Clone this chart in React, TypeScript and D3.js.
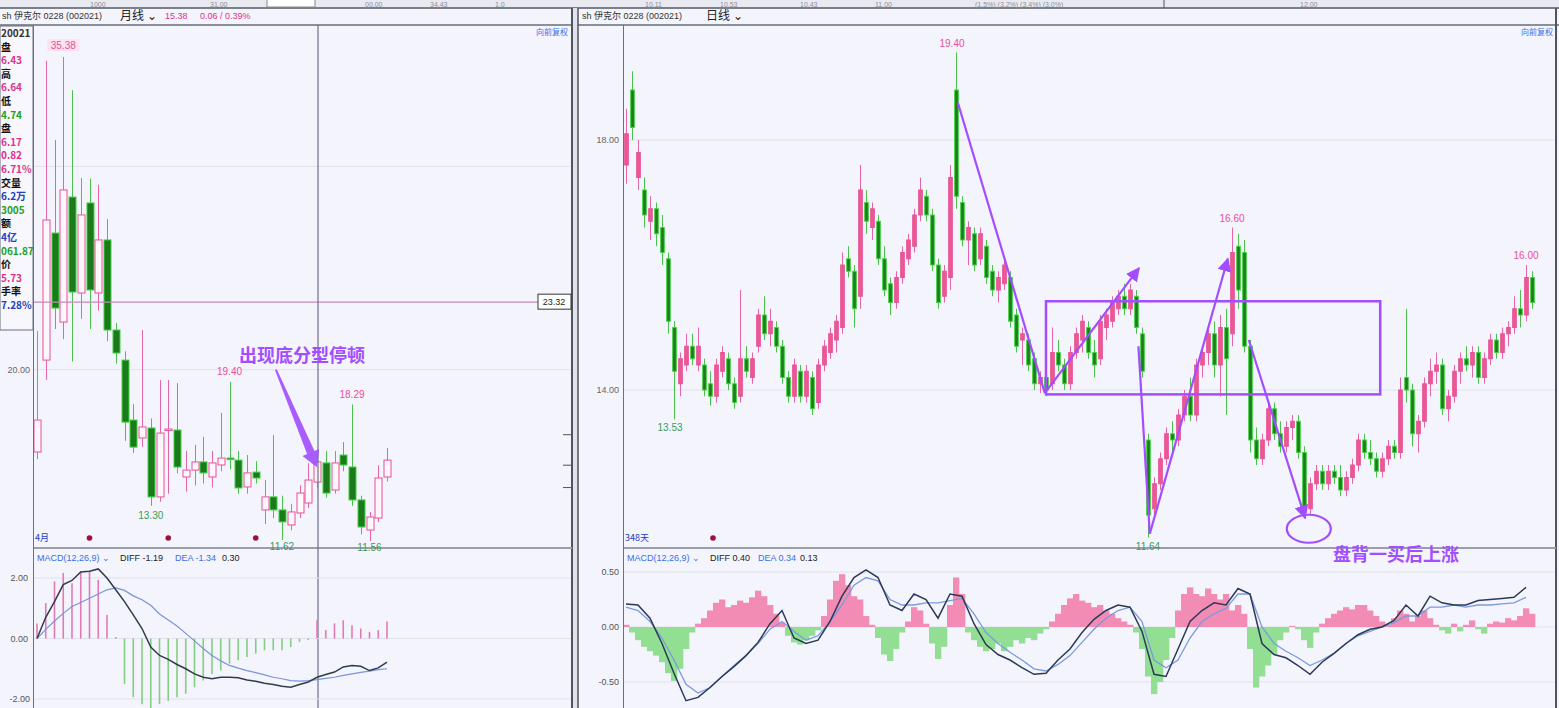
import * as d3 from "d3";

// monthly candles: [open, high, low, close]
const monthly: [number, number, number, number][] = [
  [15.95, 21.9, 15.6, 17.52], [20.47, 35.2, 19.5, 27.36], [26.72, 31.3, 22.0, 23.03], [22.34, 35.38, 21.5, 28.84],
  [28.49, 33.75, 20.4, 23.82], [23.77, 29.43, 22.5, 27.61], [28.2, 29.4, 22.0, 23.92], [23.77, 29.1, 22.9, 26.38],
  [26.38, 27.4, 21.4, 21.95], [21.95, 22.3, 20.3, 20.82], [20.47, 20.9, 16.5, 17.42], [17.52, 18.3, 15.9, 16.19],
  [16.64, 21.95, 16.2, 17.18], [17.13, 17.6, 13.3, 13.74], [13.74, 19.49, 13.5, 16.88], [17.03, 19.49, 13.9, 17.08],
  [17.03, 19.34, 14.9, 15.21], [14.72, 16.0, 14.0, 15.06], [15.06, 16.3, 14.3, 15.46], [15.46, 16.7, 14.4, 14.92],
  [14.72, 16.0, 14.2, 15.41], [15.31, 17.87, 15.0, 15.65], [15.65, 19.4, 15.1, 15.6], [15.55, 16.0, 13.9, 14.18],
  [14.23, 15.8, 13.9, 14.92], [14.96, 15.5, 14.4, 14.67], [13.1, 14.57, 12.4, 13.74], [13.74, 16.78, 12.7, 13.1],
  [13.1, 13.8, 11.62, 12.51], [12.36, 13.4, 12.1, 13.0], [12.95, 14.3, 12.7, 13.93], [13.44, 15.4, 13.2, 14.57],
  [14.47, 15.8, 14.2, 15.46], [15.41, 16.0, 13.7, 13.93], [14.08, 16.0, 13.9, 15.41], [15.8, 16.44, 15.0, 15.31],
  [15.21, 18.29, 13.3, 13.59], [13.59, 13.8, 11.9, 12.26], [12.11, 13.0, 11.56, 12.75], [12.7, 15.3, 12.5, 14.67],
  [14.72, 16.15, 14.5, 15.55],
];
const monthlyHist = [
  0.5, 1.17, 1.89, 2.17, 1.83, 2.22, 2.22, 1.94, 0.78, 0.05, -1.5, -1.94, -2.17, -2.33, -2.17, -2.06, -1.94, -1.83,
  -1.61, -1.39, -1.17, -1.06, -0.83, -0.72, -0.61, -0.5, -0.39, -0.39, -0.39, -0.28, -0.11, -0.05, 0.6, 0.28, 0.5,
  0.6, 0.44, 0.33, 0.22, 0.28, 0.56,
];
const monthlyDiff = [
  0.0, 0.7, 1.22, 1.78, 1.92, 2.2, 2.22, 2.3, 2.0, 1.61, 1.22, 0.78, 0.33, -0.28, -0.56, -0.69, -0.86, -1.0, -1.17,
  -1.28, -1.33, -1.28, -1.28, -1.3, -1.37, -1.41, -1.48, -1.52, -1.58, -1.61, -1.52, -1.44, -1.28, -1.19, -1.11,
  -0.94, -0.89, -0.92, -1.06, -0.97, -0.78,
];
const monthlyDea = [
  0.0, 0.3, 0.58, 0.83, 1.06, 1.19, 1.33, 1.47, 1.61, 1.67, 1.59, 1.41, 1.28, 1.1, 0.81, 0.61, 0.41, 0.17, -0.08,
  -0.33, -0.56, -0.74, -0.89, -0.98, -1.06, -1.13, -1.2, -1.28, -1.33, -1.39, -1.41, -1.39, -1.36, -1.32, -1.28,
  -1.22, -1.17, -1.12, -1.08, -1.03, -1.0,
];

// daily candles: [open, high, low, close]
const daily: [number, number, number, number][] = [
  [17.6, 18.5, 17.3, 18.1], [18.8, 19.1, 18.0, 18.2], [17.4, 18.0, 17.2, 17.8], [17.2, 17.4, 16.6, 16.8],
  [16.7, 17.1, 16.4, 16.9], [16.9, 17.0, 16.3, 16.5], [16.6, 16.8, 16.0, 16.2], [16.1, 16.2, 14.9, 15.1],
  [15.0, 15.1, 13.53, 14.3], [14.1, 14.6, 13.9, 14.5], [14.4, 14.9, 14.3, 14.7], [14.7, 14.9, 14.4, 14.5],
  [14.4, 15.0, 14.3, 14.7], [14.4, 14.5, 13.9, 14.0], [14.1, 14.3, 13.75, 13.9], [13.9, 14.5, 13.8, 14.4],
  [14.3, 14.7, 14.2, 14.6], [14.5, 14.6, 14.0, 14.1], [14.1, 14.2, 13.7, 13.8], [13.9, 15.6, 13.8, 14.5],
  [14.5, 14.7, 14.2, 14.3], [14.2, 14.6, 14.1, 14.5], [14.7, 15.3, 14.6, 15.2], [15.2, 15.5, 14.8, 14.9],
  [14.9, 15.3, 14.7, 15.1], [15.0, 15.1, 14.6, 14.7], [14.7, 14.8, 14.1, 14.2], [14.2, 14.3, 13.8, 13.9],
  [13.9, 14.5, 13.8, 14.4], [14.3, 14.4, 13.8, 13.9], [13.9, 14.4, 13.8, 14.3], [14.2, 14.3, 13.6, 13.7],
  [13.8, 14.5, 13.7, 14.4], [14.4, 14.8, 14.3, 14.7], [14.6, 15.0, 14.5, 14.9], [14.8, 15.2, 14.6, 15.1],
  [15.0, 16.2, 14.9, 16.0], [16.1, 16.3, 15.8, 15.9], [15.9, 16.0, 15.0, 15.3], [15.5, 17.6, 15.3, 17.2],
  [17.0, 17.2, 16.5, 16.7], [16.6, 17.0, 16.4, 16.9], [16.7, 16.8, 16.0, 16.1], [16.1, 16.3, 15.5, 15.6],
  [15.7, 15.8, 15.2, 15.4], [15.4, 15.9, 15.3, 15.8], [15.8, 16.3, 15.7, 16.2], [16.1, 16.5, 16.0, 16.4],
  [16.3, 16.9, 16.2, 16.8], [16.8, 17.4, 16.7, 17.2], [17.1, 17.2, 16.7, 16.8], [16.8, 16.9, 15.9, 16.0],
  [16.0, 16.1, 15.3, 15.4], [15.5, 16.0, 15.4, 15.9], [15.8, 17.6, 15.6, 17.4], [18.8, 19.4, 16.9, 17.1],
  [17.0, 17.1, 16.3, 16.4], [16.4, 16.7, 16.0, 16.6], [16.5, 16.6, 15.9, 16.0], [16.1, 16.6, 16.0, 16.5],
  [16.3, 16.4, 15.7, 15.8], [15.9, 16.0, 15.5, 15.6], [15.6, 15.9, 15.4, 15.8], [15.7, 16.1, 15.6, 16.0],
  [15.8, 15.9, 15.0, 15.1], [15.2, 15.3, 14.6, 14.7], [14.8, 15.0, 14.4, 14.9], [14.8, 14.9, 14.3, 14.4],
  [14.5, 14.6, 14.0, 14.1], [14.1, 14.3, 13.95, 14.2], [14.2, 14.3, 13.9, 14.0], [14.1, 15.0, 14.0, 14.6],
  [14.6, 14.8, 14.3, 14.4], [14.4, 14.5, 14.0, 14.1], [14.1, 14.7, 14.0, 14.6], [14.6, 15.0, 14.5, 14.9],
  [14.8, 15.2, 14.6, 15.1], [15.0, 15.1, 14.5, 14.6], [14.6, 14.8, 14.2, 14.4], [14.5, 15.2, 14.4, 15.1],
  [15.0, 15.3, 14.8, 15.2], [15.1, 15.5, 15.0, 15.4], [15.3, 15.6, 15.2, 15.5], [15.5, 15.7, 15.2, 15.3],
  [15.3, 15.7, 15.2, 15.6], [15.5, 15.6, 14.9, 15.0], [14.9, 15.0, 14.2, 14.3], [13.2, 13.3, 11.64, 12.0],
  [12.1, 12.6, 12.0, 12.5], [12.5, 13.0, 12.4, 12.9], [12.9, 13.4, 12.8, 13.3], [13.3, 13.5, 13.0, 13.2],
  [13.2, 13.7, 13.1, 13.6], [13.6, 14.0, 13.5, 13.9], [13.9, 14.2, 13.5, 13.6], [13.6, 14.5, 13.5, 14.4],
  [14.4, 14.7, 14.2, 14.6], [14.6, 15.0, 14.4, 14.9], [14.9, 15.1, 14.2, 14.4], [14.4, 15.2, 13.9, 15.0],
  [15.0, 15.3, 13.6, 14.5], [14.9, 16.6, 14.7, 16.2], [16.3, 16.5, 15.3, 15.6], [16.2, 16.4, 14.6, 14.7],
  [14.7, 14.8, 13.0, 13.2], [13.2, 13.4, 12.8, 12.9], [12.9, 13.3, 12.8, 13.2], [13.2, 13.8, 13.1, 13.7],
  [13.7, 13.8, 13.2, 13.3], [13.3, 13.5, 13.0, 13.1], [13.1, 13.5, 13.0, 13.4], [13.4, 13.6, 13.2, 13.5],
  [13.5, 13.6, 12.9, 13.0], [13.0, 13.1, 12.0, 12.1], [12.1, 12.6, 12.0, 12.5], [12.5, 12.8, 12.4, 12.7],
  [12.7, 12.8, 12.4, 12.5], [12.5, 12.8, 12.4, 12.7], [12.7, 12.8, 12.5, 12.6], [12.6, 12.8, 12.3, 12.4],
  [12.4, 12.7, 12.3, 12.6], [12.6, 12.9, 12.5, 12.8], [12.8, 13.3, 12.7, 13.2], [13.2, 13.3, 12.9, 13.0],
  [13.0, 13.2, 12.8, 12.9], [12.9, 13.0, 12.6, 12.7], [12.7, 13.0, 12.6, 12.9], [12.9, 13.2, 12.8, 13.1],
  [13.1, 13.2, 12.9, 13.0], [13.0, 14.2, 12.9, 14.0], [14.2, 15.3, 13.8, 14.0], [14.0, 14.1, 13.1, 13.3],
  [13.3, 13.6, 13.0, 13.5], [13.5, 14.2, 13.4, 14.1], [14.1, 14.5, 13.9, 14.3], [14.3, 14.6, 14.1, 14.4],
  [14.4, 14.5, 13.6, 13.7], [13.7, 14.0, 13.5, 13.9], [13.9, 14.4, 13.8, 14.3], [14.3, 14.6, 14.1, 14.5],
  [14.5, 14.7, 14.3, 14.4], [14.4, 14.7, 14.2, 14.6], [14.6, 14.7, 14.1, 14.2], [14.2, 14.6, 14.1, 14.5],
  [14.5, 14.9, 14.4, 14.8], [14.8, 14.9, 14.5, 14.6], [14.6, 15.0, 14.5, 14.9], [14.9, 15.1, 14.7, 15.0],
  [15.0, 15.5, 14.9, 15.3], [15.3, 15.6, 15.0, 15.2], [15.2, 16.0, 15.1, 15.8], [15.8, 15.9, 15.3, 15.4],
];
const dailyHist = [
  0.02, -0.05, -0.12, -0.18, -0.22, -0.26, -0.32, -0.42, -0.49, -0.38, -0.2, -0.05, 0.03, 0.08, 0.15, 0.22, 0.25,
  0.18, 0.2, 0.24, 0.22, 0.27, 0.33, 0.28, 0.2, 0.12, 0.04, -0.08, -0.14, -0.16, -0.12, -0.08, -0.03, 0.1, 0.25,
  0.42, 0.48, 0.38, 0.28, 0.25, 0.1, 0.02, -0.1, -0.25, -0.31, -0.2, -0.05, 0.05, 0.18, 0.15, 0.03, -0.15, -0.29,
  -0.18, 0.2, 0.45, 0.3, -0.05, -0.12, -0.18, -0.22, -0.2, -0.15, -0.22, -0.18, -0.12, -0.15, -0.1, -0.12, -0.06,
  -0.02, 0.05, 0.12, 0.2, 0.26, 0.3, 0.24, 0.22, 0.18, 0.2, 0.15, 0.12, 0.08, 0.05, 0.02, -0.05, -0.2, -0.45, -0.61,
  -0.5, -0.3, -0.1, 0.15, 0.3, 0.36, 0.3, 0.28, 0.35, 0.3, 0.25, 0.3, 0.15, 0.2, 0.12, -0.2, -0.55, -0.45, -0.35,
  -0.25, -0.12, -0.05, 0.01, -0.02, -0.12, -0.19, -0.05, 0.03, 0.08, 0.12, 0.15, 0.18, 0.16, 0.2, 0.2, 0.15, 0.1,
  0.05, 0.02, 0.08, 0.15, 0.12, 0.05, 0.1, 0.15, 0.08, 0.02, -0.03, -0.06, 0.03, -0.04, 0.02, 0.06, -0.02, -0.06,
  0.03, 0.05, 0.04, 0.08, 0.06, 0.1, 0.17, 0.12,
];
// DIFF / DEA sampled every second session
const dailyDiff = [
  0.21, 0.2, 0.08, -0.15, -0.42, -0.67, -0.64, -0.55, -0.45, -0.36, -0.26, -0.14, 0.03, 0.15, -0.1, -0.15, -0.12,
  0.05, 0.28, 0.45, 0.52, 0.45, 0.2, 0.15, 0.3, 0.25, 0.08, 0.3, 0.28, 0.03, -0.16, -0.25, -0.3, -0.37, -0.43,
  -0.42, -0.3, -0.2, -0.05, 0.07, 0.15, 0.2, 0.18, -0.04, -0.43, -0.45, -0.2, 0.05, 0.15, 0.22, 0.2, 0.35, 0.3,
  -0.15, -0.25, -0.28, -0.35, -0.43, -0.32, -0.24, -0.15, -0.07, -0.02, 0.0, 0.06, 0.2, 0.1, 0.28, 0.22, 0.2, 0.2,
  0.24, 0.25, 0.26, 0.27, 0.36,
];
const dailyDea = [
  0.18, 0.15, 0.05, -0.1, -0.3, -0.52, -0.6, -0.55, -0.45, -0.35, -0.26, -0.15, -0.02, 0.05, -0.04, -0.12, -0.08,
  0.05, 0.2, 0.38, 0.45, 0.42, 0.25, 0.2, 0.2, 0.22, 0.22, 0.24, 0.26, 0.12, -0.05, -0.15, -0.23, -0.3, -0.38, -0.4,
  -0.34, -0.26, -0.14, -0.02, 0.08, 0.15, 0.18, 0.05, -0.3, -0.37, -0.3, -0.1, 0.05, 0.12, 0.17, 0.3, 0.3, 0.0,
  -0.15, -0.22, -0.28, -0.35, -0.3, -0.24, -0.15, -0.08, -0.04, 0.0, 0.04, 0.1, 0.1, 0.18, 0.18, 0.2, 0.18, 0.2,
  0.2, 0.21, 0.22, 0.27,
];

const sideRows: [string, string][] = [
  ["20021", "#333"], ["盘", "#111"], ["6.43", "#e0308a"], ["高", "#111"], ["6.64", "#e0308a"], ["低", "#111"],
  ["4.74", "#22a022"], ["盘", "#111"], ["6.17", "#e0308a"], ["0.82", "#e0308a"], ["6.71%", "#e0308a"],
  ["交量", "#111"], ["6.2万", "#2040c0"], ["3005", "#22a022"], ["额", "#111"], ["4亿", "#2040c0"],
  ["061.87", "#22a022"], ["价", "#111"], ["5.73", "#e0308a"], ["手率", "#111"], ["7.28%", "#2040c0"],
];

const toolbarTexts: [number, string][] = [
  [90, "1000"], [210, "31.00"], [365, "00.00"], [430, "34.43"], [495, "1.0"], [645, "10.11"], [720, "10.53"],
  [800, "10.43"], [875, "11.00"], [975, "(1.5%) (3.2%) (3.4%) (3.0%)"], [1300, "12.00"],
];

const PINK = "#e8509a";
const GREEN = "#1c7a1c";
const GREEN_EDGE = "#3fd23f";
const PURPLE = "#a24dff";
const BORDER = "#6b7080";
const FONT = "'Liberation Sans', 'Noto Sans CJK SC', sans-serif";
const CJK = "'Noto Sans CJK SC', sans-serif";

type Candle = [number, number, number, number];

function Candles({ data, x, y, w, hollow }: { data: Candle[]; x: (i: number) => number; y: (v: number) => number; w: number; hollow: boolean }) {
  return (
    <g>
      {data.map(([o, h, l, c], i) => {
        const up = c >= o;
        const cx = Math.round(x(i)) + 0.5;
        const top = y(Math.max(o, c));
        const bot = y(Math.min(o, c));
        const wick = up ? "#e466a6" : "#4cc04c";
        return (
          <g key={i}>
            <line x1={cx} x2={cx} y1={y(h)} y2={top} stroke={wick} strokeWidth={1} />
            <line x1={cx} x2={cx} y1={bot} y2={y(l)} stroke={wick} strokeWidth={1} />
            <rect
              x={cx - w / 2}
              y={top}
              width={w}
              height={Math.max(1.5, bot - top)}
              fill={up ? (hollow ? "#fff7fb" : "#ec5890") : GREEN}
              stroke={up ? PINK : GREEN_EDGE}
              strokeWidth={1}
            />
          </g>
        );
      })}
    </g>
  );
}

function Wedge({ x1, y1, x2, y2 }: { x1: number; y1: number; x2: number; y2: number }) {
  const len = Math.hypot(x2 - x1, y2 - y1);
  const dx = (x2 - x1) / len, dy = (y2 - y1) / len;
  const nx = -dy, ny = dx;
  const bx = x2 - dx * 16, by = y2 - dy * 16;
  const pts = [
    [x1 + nx * 1, y1 + ny * 1], [bx + nx * 4, by + ny * 4], [bx + nx * 9, by + ny * 9], [x2, y2],
    [bx - nx * 9, by - ny * 9], [bx - nx * 4, by - ny * 4], [x1 - nx * 1, y1 - ny * 1],
  ];
  return <polygon points={pts.map((p) => p.join(",")).join(" ")} fill={PURPLE} opacity={0.9} />;
}

export default function App() {
  const xL = d3.scaleLinear([0, monthly.length - 1], [37, 387]);
  const yL = d3.scaleLinear([11.62, 35.38], [540, 57]);
  const mL = d3.scaleLinear([-2, 2], [699, 578]);
  const xR = d3.scaleLinear([0, daily.length - 1], [626, 1532]);
  const yR = d3.scaleLinear([14, 18], [390, 140]);
  const mR = d3.scaleLinear([-0.5, 0.5], [682, 572]);
  const stepR = xR(1) - xR(0);

  const lineL = d3.line<number>((_, i) => xL(i), (d) => mL(d));
  const lineR = d3.line<number>((_, i) => xR(Math.min(i * 2, daily.length - 1)), (d) => mR(d));

  const crossY = yL(23.32);
  const crossX = 318;

  return (
    <svg width={1559} height={708} style={{ position: "absolute", left: 0, top: 0, display: "block" }} fontFamily={FONT}>
      <defs>
        <marker id="ah" viewBox="0 0 10 10" refX="9" refY="5" markerWidth="14" markerHeight="14" markerUnits="userSpaceOnUse" orient="auto">
          <path d="M0,0 L10,5 L0,10 z" fill={PURPLE} />
        </marker>
        <clipPath id="clipL"><rect x={34} y={26} width={538} height={682} /></clipPath>
        <clipPath id="clipR"><rect x={624} y={26} width={932} height={682} /></clipPath>
      </defs>
      <rect width={1559} height={708} fill="#f4f4fc" />

      {/* top toolbar strip */}
      <rect width={1559} height={8} fill="#e9eaf1" />
      <line x1={0} x2={1559} y1={8} y2={8} stroke="#555a66" strokeWidth={1.5} />
      <g fontSize={7} fill="#8a8e99">
        {toolbarTexts.map(([x, t]) => (
          <text key={x} x={x} y={6.5}>{t}</text>
        ))}
      </g>
      <rect x={267} y={-2} width={48} height={9} fill="#fff" stroke="#888" />
      <line x1={1164} x2={1164} y1={0} y2={8} stroke="#555" />

      {/* headers */}
      <line x1={0} x2={572} y1={25} y2={25} stroke="#8a8f9c" strokeWidth={2} />
      <line x1={578} x2={1559} y1={25} y2={25} stroke="#8a8f9c" strokeWidth={2} />
      <g fontSize={9}>
        <text x={2} y={19} fill="#333">sh 伊克尔 0228 (002021)</text>
        <text x={120} y={20} fill="#222" fontSize={12} fontFamily={CJK}>月线 ⌄</text>
        <text x={165} y={19} fill="#e0308a">15.38</text>
        <text x={200} y={19} fill="#e0308a">0.06 / 0.39%</text>
        <text x={582} y={19} fill="#333">sh 伊克尔 0228 (002021)</text>
        <text x={706} y={20} fill="#222" fontSize={12} fontFamily={CJK}>日线 ⌄</text>
      </g>
      <g fontSize={8} fill="#3a6ee8" fontFamily={CJK}>
        <text x={536} y={35}>向前复权</text>
        <text x={1521} y={35}>向前复权</text>
      </g>

      {/* panel frames */}
      <line x1={33.5} x2={33.5} y1={25} y2={708} stroke={BORDER} />
      <line x1={572} x2={572} y1={8} y2={708} stroke="#4f5462" strokeWidth={2} />
      <rect x={573} y={8} width={5} height={700} fill="#e2e3ea" />
      <line x1={578} x2={578} y1={8} y2={708} stroke="#4f5462" strokeWidth={1.5} />
      <line x1={623.5} x2={623.5} y1={25} y2={708} stroke={BORDER} />
      <line x1={1556} x2={1556} y1={8} y2={708} stroke="#4f5462" strokeWidth={2} />
      <line x1={34} x2={572} y1={548} y2={548} stroke="#9a9eaa" strokeWidth={2} />
      <line x1={624} x2={1556} y1={548} y2={548} stroke="#9a9eaa" strokeWidth={2} />

      {/* sidebar */}
      <rect x={0} y={26} width={33} height={304} fill="#f7f7fd" stroke={BORDER} />
      <g fontSize={10} fontWeight="bold" fontFamily={CJK}>
        {sideRows.map(([t, c], i) => (
          <text key={i} x={1} y={37 + i * 13.6} fill={c}>{t}</text>
        ))}
      </g>

      {/* left gridlines & axis labels */}
      {[30, 20].map((v) => (
        <line key={v} x1={34} x2={571} y1={yL(v)} y2={yL(v)} stroke="#e1e1ee" />
      ))}
      <text x={30} y={yL(20) + 3} fontSize={9} fill="#666" textAnchor="end">20.00</text>
      {[15.3, 16.8, 14.2].map((v) => (
        <line key={v} x1={563} x2={571} y1={yL(v)} y2={yL(v)} stroke="#555" />
      ))}

      {/* left monthly candles */}
      <g clipPath="url(#clipL)">
        <Candles data={monthly} x={xL} y={yL} w={7} hollow={true} />
      </g>
      <g fontSize={10}>
        <rect x={xL(3) - 16} y={yL(35.38) - 18} width={32} height={12} fill="#fbe4f0" />
        <text x={xL(3)} y={yL(35.38) - 8} fill={PINK} textAnchor="middle">35.38</text>
        <text x={xL(13)} y={yL(13.3) + 13} fill="#3a9a5a" textAnchor="middle">13.30</text>
        <text x={xL(22)} y={yL(19.4) - 7} fill={PINK} textAnchor="middle">19.40</text>
        <text x={xL(28)} y={yL(11.62) + 10} fill="#3a9a5a" textAnchor="middle">11.62</text>
        <text x={xL(36)} y={yL(18.29) - 6} fill={PINK} textAnchor="middle">18.29</text>
        <text x={xL(38)} y={yL(11.56) + 10} fill="#3a9a5a" textAnchor="middle">11.56</text>
      </g>
      <text x={35} y={541} fontSize={9} fill="#2040c0" fontFamily={CJK}>4月</text>
      {[6, 15, 25].map((i) => (
        <circle key={i} cx={xL(i)} cy={538} r={2.8} fill="#a0103a" />
      ))}

      {/* crosshair */}
      <line x1={34} x2={540} y1={crossY} y2={crossY} stroke="#c58ab8" strokeWidth={1.2} />
      <line x1={crossX} x2={crossX} y1={25} y2={708} stroke="#6e6e88" strokeWidth={1.2} />
      <rect x={538} y={crossY - 8} width={33} height={15} fill="#fff" stroke="#333" />
      <text x={554} y={crossY + 3} fontSize={9} fill="#222" textAnchor="middle">23.32</text>

      {/* left annotation */}
      <text x={239} y={362} fontSize={18} fontWeight="bold" fill={PURPLE} fontFamily={CJK}>出现底分型停顿</text>
      <Wedge x1={xL(27.3)} y1={yL(20.0)} x2={xL(32)} y2={yL(15.2)} />

      {/* left MACD */}
      <g fontSize={9}>
        <text x={37} y={561} fill="#3a6ee8">MACD(12,26,9) ⌄</text>
        <text x={120} y={561} fill="#222">DIFF -1.19</text>
        <text x={175} y={561} fill="#3a6ee8">DEA -1.34</text>
        <text x={222} y={561} fill="#222">0.30</text>
        <text x={28} y={mL(2) + 3} fill="#555" textAnchor="end">2.00</text>
        <text x={28} y={mL(0) + 3} fill="#555" textAnchor="end">0.00</text>
        <text x={30} y={mL(-2) + 3} fill="#555" textAnchor="end">-2.00</text>
      </g>
      {[2, 0, -2].map((v) => (
        <line key={v} x1={34} x2={571} y1={mL(v)} y2={mL(v)} stroke="#e1e1ee" />
      ))}
      <g clipPath="url(#clipL)">
        {monthlyHist.map((v, i) => (
          <line key={i} x1={xL(i)} x2={xL(i)} y1={mL(0)} y2={mL(v)} stroke={v >= 0 ? "#e27bb5" : "#86cc86"} strokeWidth={1.6} />
        ))}
        <path d={lineL(monthlyDea) ?? ""} fill="none" stroke="#7a94d8" strokeWidth={1.2} />
        <path d={lineL(monthlyDiff) ?? ""} fill="none" stroke="#2e3c4c" strokeWidth={1.5} />
      </g>

      {/* right gridlines & axis labels */}
      {[18, 14].map((v) => (
        <g key={v}>
          <line x1={624} x2={1555} y1={yR(v)} y2={yR(v)} stroke="#e1e1ee" />
          <text x={619} y={yR(v) + 3} fontSize={9} fill="#666" textAnchor="end">{v.toFixed(2)}</text>
        </g>
      ))}

      {/* right daily candles */}
      <g clipPath="url(#clipR)">
        <Candles data={daily} x={xR} y={yR} w={3.6} hollow={false} />
      </g>
      <g fontSize={10}>
        <text x={xR(55) - 4} y={yR(19.4) - 6} fill={PINK} textAnchor="middle">19.40</text>
        <text x={xR(8) - 4} y={yR(13.53) + 12} fill="#3a9a5a" textAnchor="middle">13.53</text>
        <text x={xR(87)} y={yR(11.64) + 12} fill="#3a9a5a" textAnchor="middle">11.64</text>
        <text x={xR(101)} y={yR(16.6) - 6} fill={PINK} textAnchor="middle">16.60</text>
        <text x={xR(150)} y={yR(16.0) - 6} fill={PINK} textAnchor="middle">16.00</text>
      </g>
      <text x={625} y={541} fontSize={9} fill="#2040c0" fontFamily={CJK}>348天</text>
      <circle cx={xR(14.5)} cy={538} r={2.8} fill="#a0103a" />

      {/* right annotations */}
      <g stroke={PURPLE} strokeWidth={2.2} fill="none">
        <rect x={xR(70)} y={yR(15.42)} width={xR(125.7) - xR(70)} height={yR(13.93) - yR(15.42)} strokeWidth={2.5} />
        <line x1={xR(55.3)} y1={yR(18.6)} x2={xR(69.8)} y2={yR(13.95)} />
        <line x1={xR(69.8)} y1={yR(13.95)} x2={xR(85.5)} y2={yR(15.95)} markerEnd="url(#ah)" />
        <line x1={xR(85.4)} y1={yR(14.7)} x2={xR(87.3)} y2={yR(11.7)} />
        <line x1={xR(87.3)} y1={yR(11.7)} x2={xR(100.3)} y2={yR(16.1)} markerEnd="url(#ah)" />
        <line x1={xR(103.8)} y1={yR(14.8)} x2={xR(113.2)} y2={yR(11.95)} markerEnd="url(#ah)" />
        <ellipse cx={xR(113.8)} cy={yR(11.78)} rx={22} ry={14} />
      </g>
      <text x={1333} y={561} fontSize={18} fontWeight="bold" fill={PURPLE} fontFamily={CJK}>盘背一买后上涨</text>

      {/* right MACD */}
      <g fontSize={9}>
        <text x={627} y={561} fill="#3a6ee8">MACD(12,26,9) ⌄</text>
        <text x={710} y={561} fill="#222">DIFF 0.40</text>
        <text x={758} y={561} fill="#3a6ee8">DEA 0.34</text>
        <text x={800} y={561} fill="#222">0.13</text>
        <text x={619} y={mR(0.5) + 3} fill="#555" textAnchor="end">0.50</text>
        <text x={619} y={mR(0) + 3} fill="#555" textAnchor="end">0.00</text>
        <text x={619} y={mR(-0.5) + 3} fill="#555" textAnchor="end">-0.50</text>
      </g>
      {[0.5, 0, -0.5].map((v) => (
        <line key={v} x1={624} x2={1555} y1={mR(v)} y2={mR(v)} stroke="#e1e1ee" />
      ))}
      <g clipPath="url(#clipR)">
        {dailyHist.map((v, i) => (
          <rect
            key={i}
            x={xR(i) - stepR / 2}
            y={Math.min(mR(0), mR(v))}
            width={stepR + 0.3}
            height={Math.abs(mR(v) - mR(0))}
            fill={v >= 0 ? "#f28cb4" : "#92de92"}
          />
        ))}
        <path d={lineR(dailyDea) ?? ""} fill="none" stroke="#7a9ae0" strokeWidth={1.3} />
        <path d={lineR(dailyDiff) ?? ""} fill="none" stroke="#2b3a55" strokeWidth={1.5} />
      </g>
    </svg>
  );
}
